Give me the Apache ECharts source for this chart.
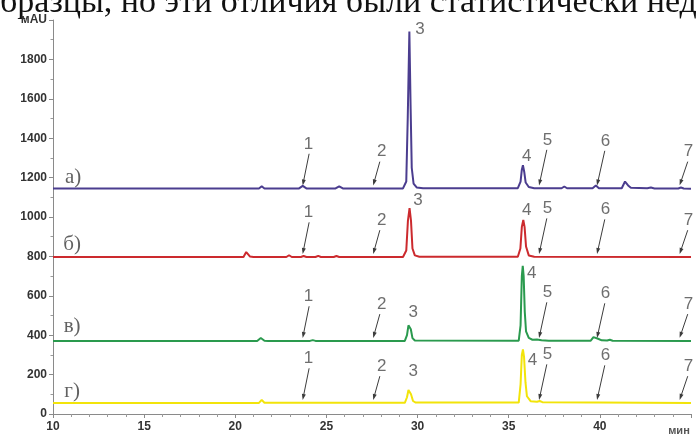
<!DOCTYPE html>
<html>
<head>
<meta charset="utf-8">
<script src="https://cdn.jsdelivr.net/npm/echarts@6/dist/echarts.min.js"></script>
<style>
  html, body { margin: 0; padding: 0; background: #fff; }
  #chart { width: 697px; height: 436px; }
</style>
</head>
<body>
<div id="chart"></div>
<script>
// Chromatograms а)–г): retention time (min) vs absorbance (mAU)
const traceA = [
  [10, 1145], [21.3, 1145], [21.45, 1156], [21.6, 1145], [23.5, 1145], [23.7, 1158], [23.9, 1145],
  [25.5, 1145], [25.7, 1156], [25.9, 1145], [29.2, 1145], [29.38, 1180], [29.46, 1500], [29.55, 1942],
  [29.62, 1550], [29.68, 1250], [29.78, 1170], [29.95, 1150], [30.3, 1146], [35.5, 1146], [35.65, 1180],
  [35.72, 1240], [35.78, 1263], [35.85, 1230], [35.93, 1175], [36.1, 1152], [36.4, 1146], [37.9, 1146],
  [38.05, 1155], [38.2, 1146], [39.6, 1146], [39.78, 1160], [39.95, 1146], [41.2, 1146], [41.38, 1180],
  [41.55, 1160], [41.7, 1148], [42.6, 1146], [42.8, 1150], [43.0, 1145], [44.3, 1145], [44.45, 1150],
  [44.6, 1145], [45, 1144]
];
const traceB = [
  [10, 797], [20.45, 797], [20.6, 822], [20.8, 800], [21, 797], [22.8, 797], [22.95, 806], [23.1, 797],
  [23.6, 797], [23.75, 802], [23.9, 797], [24.4, 797], [24.55, 803], [24.7, 797], [25.4, 797], [25.55, 802],
  [25.7, 797], [29.2, 797], [29.38, 830], [29.47, 980], [29.56, 1045], [29.64, 980], [29.72, 840],
  [29.85, 805], [30.1, 798], [35.5, 798], [35.64, 840], [35.72, 950], [35.8, 985], [35.87, 950],
  [35.95, 850], [36.1, 805], [36.4, 798], [45, 797]
];
const traceC = [
  [10, 371], [11.8, 371], [11.9, 376], [12.0, 371], [20.3, 371], [20.4, 375], [20.5, 371], [21.2, 371],
  [21.4, 386], [21.6, 372], [21.8, 371], [24.1, 371], [24.25, 375], [24.4, 371], [25.4, 371], [25.5, 375],
  [25.6, 371], [29.3, 371], [29.42, 400], [29.5, 450], [29.56, 459], [29.63, 430], [29.72, 385],
  [29.85, 373], [35.55, 372], [35.65, 450], [35.72, 700], [35.77, 752], [35.82, 700], [35.88, 520],
  [35.95, 420], [36.1, 386], [36.3, 377], [36.55, 378], [36.65, 381], [36.8, 374], [37.2, 372],
  [39.5, 372], [39.65, 390], [39.75, 398], [39.9, 382], [40.1, 374], [40.4, 373], [40.55, 377],
  [40.7, 372], [45, 371]
];
const traceD = [
  [10, 56], [11.8, 56], [11.9, 60], [12, 56], [21.3, 56], [21.45, 72], [21.6, 57], [29.3, 57],
  [29.42, 85], [29.5, 122], [29.56, 130], [29.64, 100], [29.75, 66], [29.9, 58], [35.55, 58],
  [35.65, 150], [35.72, 300], [35.78, 328], [35.84, 290], [35.92, 160], [36.0, 90], [36.2, 65],
  [36.55, 62], [36.7, 66], [36.85, 60], [39.7, 58], [39.8, 64], [39.9, 58], [45, 56]
];
const traces = [traceA, traceB, traceC, traceD];
const traceNames = ['а)', 'б)', 'в)', 'г)'];
const traceBaselines = [1145, 797, 371, 56];
const traceColors = ['#4b3d8f', '#cc2a2e', '#2a9a4e', '#f2e40a'];

// marked minor components: retention times at the arrow tips
const arrowIds = ['1', '2', '5', '6', '7'];
const arrowTimes = [23.73, 27.61, 36.7, 39.88, 44.43];
const arrowTagRise = [226, 186, 246, 241, 186];

// main components 3 and 4: tag anchor points for each trace
const tag3 = [[30.13, 1951], [30.02, 1087], [29.76, 518], [29.76, 216]];
const tag4 = [[35.99, 1307], [35.99, 1032], [36.26, 715], [36.3, 271]];
const nameTags = [[11.1, 1202], [11.05, 860], [11.05, 442], [11.05, 116]];

const xTicks = { min: 10, max: 45, step: 5 };
const yTicks = { min: 0, max: 2000, step: 200 };

const chart = echarts.init(document.getElementById('chart'));

const tagItems = [];
const series = traces.map((data, i) => {
  const base = traceBaselines[i];
  const arrows = arrowTimes.map((t, k) => {
    const rise = arrowTagRise[k];
    return [
      { coord: [t + 0.22 + (k >= 2 ? 0.17 : 0.1), base + rise - 50] },
      { coord: [t, base + 30] }
    ];
  });
  arrowTimes.forEach((t, k) => {
    tagItems.push({ value: [t + (k === 0 ? 0.28 : 0.43), base + arrowTagRise[k]], label: { formatter: arrowIds[k] } });
  });
  tagItems.push({ value: tag3[i], label: { formatter: '3' } });
  tagItems.push({ value: tag4[i], label: { formatter: '4' } });
  tagItems.push({
    value: nameTags[i],
    label: { formatter: traceNames[i], fontFamily: 'Liberation Serif', fontSize: 21, color: '#3a3a3a' }
  });
  return {
    type: 'line',
    data: data,
    showSymbol: false,
    lineStyle: { color: traceColors[i], width: 2 },
    itemStyle: { color: traceColors[i] },
    z: 2 + (4 - i),
    markLine: {
      silent: true,
      animation: false,
      symbol: ['none', 'triangle'],
      symbolSize: [4, 6],
      label: { show: false },
      itemStyle: { color: '#333' },
      lineStyle: { color: '#3c3c3c', width: 1, type: 'solid' },
      data: arrows,
      z: 8
    }
  };
});

series.push({
  type: 'scatter',
  data: tagItems,
  symbolSize: 1,
  itemStyle: { color: 'rgba(0,0,0,0)' },
  z: 10,
  label: {
    show: true,
    position: 'inside',
    fontFamily: 'Liberation Sans',
    fontSize: 17,
    color: '#4a4a4a'
  }
});

chart.setOption({
  animation: false,
  backgroundColor: '#fff',
  graphic: [{
    type: 'text',
    left: -17,
    top: -14,
    style: {
      text: 'образцы, но эти отличия были статистически недостоверны',
      font: '34px "Liberation Serif"',
      fill: '#111'
    }
  }],
  grid: { left: 53, right: 6, top: 20, bottom: 18 },
  xAxis: {
    type: 'value',
    min: xTicks.min,
    max: xTicks.max,
    interval: xTicks.step,
    axisLine: { lineStyle: { color: '#8a8a8a', width: 1 } },
    axisTick: { show: true, length: 4, lineStyle: { color: '#8a8a8a' } },
    minorTick: { show: true, splitNumber: 5, length: 3, lineStyle: { color: '#9a9a9a' } },
    splitLine: { show: false },
    axisLabel: {
      fontFamily: 'Liberation Sans',
      fontWeight: 'bold',
      fontSize: 12,
      color: '#333',
      margin: 7,
      showMaxLabel: true,
      formatter: v => (v === xTicks.max ? '{u|мин}' : String(v)),
      rich: { u: { fontFamily: 'Liberation Sans', fontSize: 11, color: '#555', padding: [4, 24, 0, 0] } }
    }
  },
  yAxis: {
    type: 'value',
    min: yTicks.min,
    max: yTicks.max,
    interval: yTicks.step,
    axisLine: { show: true, lineStyle: { color: '#8a8a8a', width: 1 } },
    axisTick: { show: true, length: 4, lineStyle: { color: '#8a8a8a' } },
    minorTick: { show: true, splitNumber: 2, length: 2.5, lineStyle: { color: '#9a9a9a' } },
    splitLine: { show: false },
    axisLabel: {
      fontFamily: 'Liberation Sans',
      fontWeight: 'bold',
      fontSize: 12,
      color: '#333',
      margin: 6,
      showMaxLabel: true,
      formatter: v => (v === yTicks.max ? 'мAU' : String(v))
    }
  },
  series: series
});
</script>
</body>
</html>
